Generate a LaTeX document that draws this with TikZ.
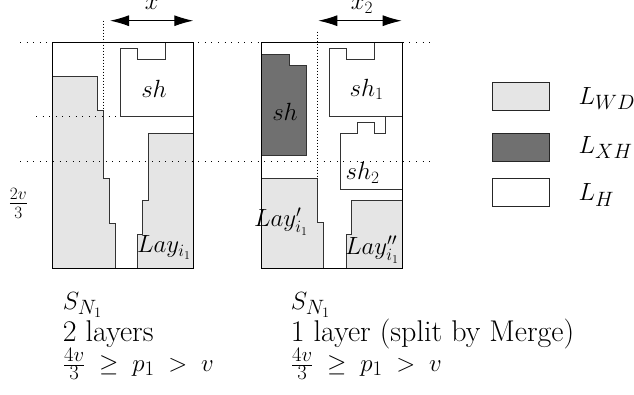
\documentclass[tikz,border=0pt]{standalone}
\usetikzlibrary{arrows.meta}
\definecolor{lightfill}{HTML}{E5E5E5}
\definecolor{darkfill}{HTML}{707070}
\newcommand{\capfont}{\fontsize{30}{34}\selectfont\thickmuskip=10mu plus 2mu}
\begin{document}
\begin{tikzpicture}[x=1pt,y=-1pt,
  frame/.style={draw=black,line width=1.1pt},
  edge/.style={draw=black!80,line width=0.9pt},
  wd/.style={edge,fill=lightfill},
  xh/.style={edge,fill=darkfill},
  hh/.style={edge,fill=white},
  guide/.style={draw=black,line width=0.9pt,dash pattern=on 1pt off 5.6pt},
  vguide/.style={draw=black,line width=0.8pt,dash pattern=on 1pt off 2pt},
  dim/.style={line width=1pt,{Latex[length=19pt,width=11pt]}-{Latex[length=19pt,width=11pt]}},
  lbl/.style={inner sep=0pt,font=\fontsize{24}{28}\selectfont},
  leg/.style={inner sep=0pt,anchor=west,font=\fontsize{30}{34}\selectfont},
  bottom/.style={inner sep=0pt,anchor=base west,font=\capfont},
  legbox/.style={draw=black!85,line width=1pt}]
\useasboundingbox (0,0) rectangle (634,394);

% ---------- left configuration ----------
\draw[wd] (52.3,76.7) -- (97.3,76.7) -- (97.3,110.7) -- (103.7,110.7) -- (103.7,178.3)
  -- (109,178.3) -- (109,223.3) -- (115,223.3) -- (115,268.3) -- (52.3,268.3) -- cycle;
\draw[wd] (137.3,268.3) -- (137.3,234.3) -- (142.7,234.3) -- (142.7,200.7) -- (148.3,200.7)
  -- (148.3,133.3) -- (193.3,133.3) -- (193.3,268.3) -- cycle;
\draw[hh] (120,48.7) -- (137.3,48.7) -- (137.3,59.3) -- (165,59.3) -- (165,42.7)
  -- (193.3,42.7) -- (193.3,116) -- (120,116) -- cycle;

% ---------- right configuration ----------
\draw[xh] (261.7,54) -- (289.3,54) -- (289.3,65.3) -- (306.7,65.3) -- (306.7,155.3)
  -- (261.7,155.3) -- cycle;
\draw[hh] (329,48.7) -- (346,48.7) -- (346,59.3) -- (374.3,59.3) -- (374.3,42.7)
  -- (402.3,42.7) -- (402.3,116) -- (329,116) -- cycle;
\draw[hh] (340.3,133.3) -- (357.7,133.3) -- (357.7,122.3) -- (374.3,122.3) -- (374.3,133.3)
  -- (385.3,133.3) -- (385.3,116) -- (402.3,116) -- (402.3,189.3) -- (340.3,189.3) -- cycle;
\draw[wd] (261.7,178.3) -- (317.7,178.3) -- (317.7,222.7) -- (323.3,222.7) -- (323.3,268.3)
  -- (261.7,268.3) -- cycle;
\draw[wd] (346,268.3) -- (346,234.3) -- (351.7,234.3) -- (351.7,200.7) -- (402.3,200.7)
  -- (402.3,268.3) -- cycle;

% ---------- guides ----------
\draw[guide] (20,42.7) -- (430,42.7);
\draw[guide] (36,116) -- (120,116);
\draw[guide] (20,161.3) -- (430,161.3);
\draw[vguide] (103.7,20.7) -- (103.7,110.7);
\draw[vguide] (317.7,31.7) -- (317.7,178.3);

% ---------- frames ----------
\draw[frame] (52.3,42.7) rectangle (193.3,268.3);
\draw[frame] (261.7,42.7) rectangle (402.3,268.3);

% ---------- dimension arrows ----------
\coordinate (xa) at (110,20.7);
\coordinate (xb) at (193.3,20.7);
\coordinate (xc) at (318.3,20.7);
\coordinate (xd) at (401.7,20.7);
\draw[dim] (xa) -- (xb);
\draw[dim] (xc) -- (xd);
\node[lbl] (xlab) at (151.7,4) {$x$};
\node[lbl] (xtwolab) at (362,6) {$x_2$};

% ---------- labels in the diagrams ----------
\node[lbl] (shA) at (154,89.3) {$sh$};
\node[lbl] (layA) at (164,247.5) {$Lay_{i_1}$};
\node[lbl] (twovthird) at (18.3,203.3) {$\frac{2v}{3}$};
\node[lbl] (shB) at (285,111.7) {$sh$};
\node[lbl] (shone) at (366.7,89.3) {$sh_1$};
\node[lbl] (shtwo) at (362.7,172.7) {$sh_2$};
\node[lbl] (layB) at (281,221.7) {$Lay'_{i_1}$};
\node[lbl] (layC) at (372,249.5) {$Lay''_{i_1}$};

% ---------- legend ----------
\node[legbox,fill=lightfill,minimum width=56.4pt,minimum height=28pt,inner sep=0pt,anchor=north west] (legwd) at (492.3,82.3) {};
\node[legbox,fill=darkfill,minimum width=56.4pt,minimum height=28pt,inner sep=0pt,anchor=north west] (legxh) at (492.3,133) {};
\node[legbox,fill=white,minimum width=56.4pt,minimum height=28.3pt,inner sep=0pt,anchor=north west] (legh) at (492.3,177.7) {};
\node[leg] (lwd) at (578.3,98.3) {$L_{WD}$};
\node[leg] (lxh) at (578.3,147.3) {$L_{XH}$};
\node[leg] (lh) at (578.3,195) {$L_H$};

% ---------- captions ----------
\node[bottom] (capA1) at (62.7,309) {$S_{N_1}$};
\node[bottom] (capA2) at (62.7,341) {2 layers};
\node[bottom] (capA3) at (62.7,371) {$\frac{4v}{3} \geq p_1 > v$};
\node[bottom] (capB1) at (290.7,309) {$S_{N_1}$};
\node[bottom] (capB2) at (290.7,341) {1 layer (split by Merge)};
\node[bottom] (capB3) at (290.7,371) {$\frac{4v}{3} \geq p_1 > v$};
\end{tikzpicture}
\end{document}
